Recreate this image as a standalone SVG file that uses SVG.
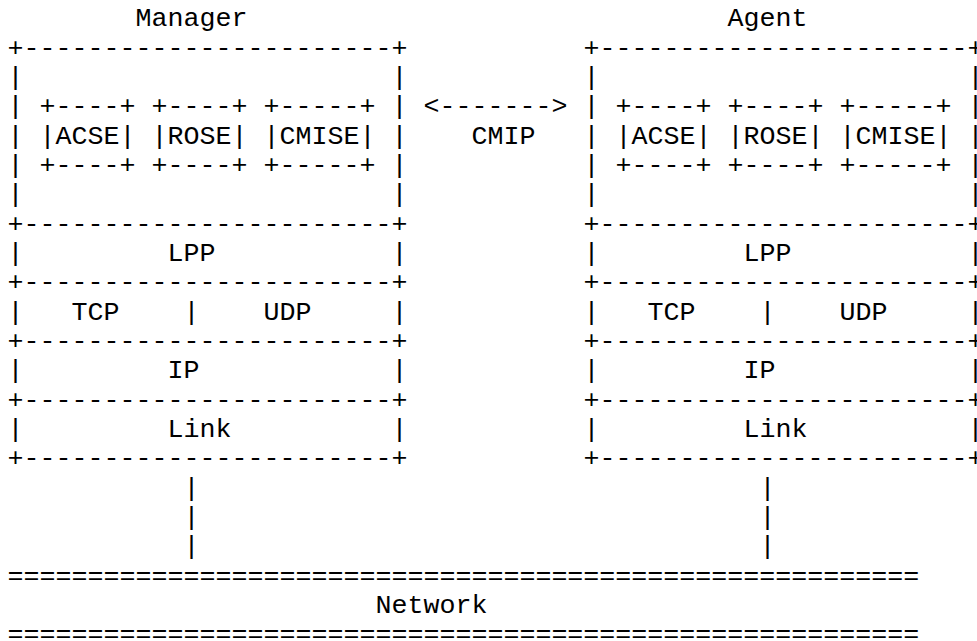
<svg xmlns="http://www.w3.org/2000/svg" width="977" height="641" viewBox="0 0 977 641" xml:space="preserve">
<style>
text{font-family:"Liberation Mono","DejaVu Sans Mono",monospace;font-size:26.667px;fill:#000;white-space:pre}
</style>
<rect x="0" y="0" width="977" height="641" fill="#fff"/>
<g id="manager">
<text x="135.5" y="26.4">Manager</text>
<text x="7.5" y="55.7">+-----------------------+</text>
<text x="7.5" y="85.1">|                       |</text>
<text x="7.5" y="114.4">| +----+ +----+ +-----+ |</text>
<text x="7.5" y="143.7">| |ACSE| |ROSE| |CMISE| |</text>
<text x="7.5" y="173.1">| +----+ +----+ +-----+ |</text>
<text x="7.5" y="202.4">|                       |</text>
<text x="7.5" y="231.7">+-----------------------+</text>
<text x="7.5" y="261.0">|         LPP           |</text>
<text x="7.5" y="290.4">+-----------------------+</text>
<text x="7.5" y="319.7">|   TCP    |    UDP     |</text>
<text x="7.5" y="349.0">+-----------------------+</text>
<text x="7.5" y="378.4">|         IP            |</text>
<text x="7.5" y="407.7">+-----------------------+</text>
<text x="7.5" y="437.0">|         Link          |</text>
<text x="7.5" y="466.4">+-----------------------+</text>
</g>
<g id="agent">
<text x="727.5" y="26.4">Agent</text>
<text x="583.5" y="55.7">+-----------------------+</text>
<text x="583.5" y="85.1">|                       |</text>
<text x="583.5" y="114.4">| +----+ +----+ +-----+ |</text>
<text x="583.5" y="143.7">| |ACSE| |ROSE| |CMISE| |</text>
<text x="583.5" y="173.1">| +----+ +----+ +-----+ |</text>
<text x="583.5" y="202.4">|                       |</text>
<text x="583.5" y="231.7">+-----------------------+</text>
<text x="583.5" y="261.0">|         LPP           |</text>
<text x="583.5" y="290.4">+-----------------------+</text>
<text x="583.5" y="319.7">|   TCP    |    UDP     |</text>
<text x="583.5" y="349.0">+-----------------------+</text>
<text x="583.5" y="378.4">|         IP            |</text>
<text x="583.5" y="407.7">+-----------------------+</text>
<text x="583.5" y="437.0">|         Link          |</text>
<text x="583.5" y="466.4">+-----------------------+</text>
</g>
<g id="network">
<text x="7.5" y="583.7">=========================================================</text>
<text x="375.5" y="613.0">Network</text>
<text x="7.5" y="642.3">=========================================================</text>
</g>
<g id="connectors">
<text x="423.5" y="114.4">&lt;-------&gt;</text>
<text x="471.5" y="143.7">CMIP</text>
<text x="183.5" y="495.7">|</text>
<text x="183.5" y="525.0">|</text>
<text x="183.5" y="554.3">|</text>
<text x="759.5" y="495.7">|</text>
<text x="759.5" y="525.0">|</text>
<text x="759.5" y="554.3">|</text>
</g>
</svg>
